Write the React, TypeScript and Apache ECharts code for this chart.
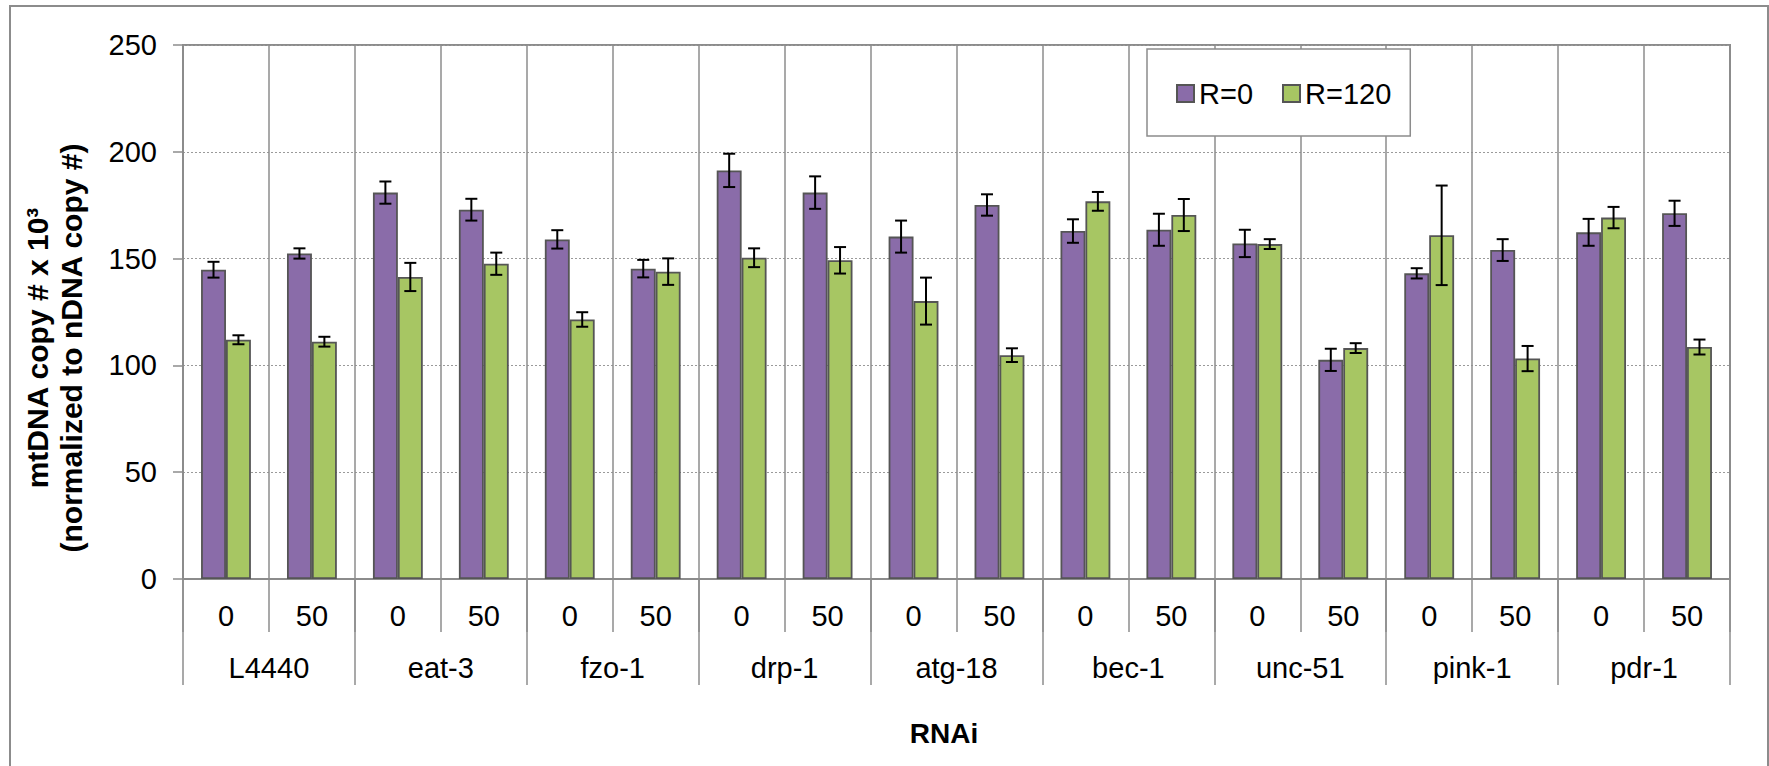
import React, { useEffect, useRef } from "react";
import * as echarts from "echarts";

const groups = ["L4440", "eat-3", "fzo-1", "drp-1", "atg-18", "bec-1", "unc-51", "pink-1", "pdr-1"];
const doses = ["0", "50"];
const subLabels = ["0", "50", "0", "50", "0", "50", "0", "50", "0", "50", "0", "50", "0", "50", "0", "50", "0", "50"];
const seriesNames = ["R=0", "R=120"];

const r0 = [144.8, 152.4, 180.9, 172.9, 159.0, 145.3, 191.3, 180.9, 160.3, 175.1, 162.9, 163.5, 157.1, 102.6, 143.1, 154.0, 162.3, 171.2];
const r0Err = [3.7, 2.4, 5.2, 5.1, 4.3, 4.1, 7.8, 7.6, 7.5, 5.0, 5.5, 7.5, 6.4, 5.2, 2.4, 5.1, 6.3, 5.9];
const r120 = [112.0, 111.1, 141.4, 147.6, 121.5, 143.9, 150.4, 149.2, 130.1, 104.8, 176.8, 170.4, 156.8, 108.1, 160.9, 103.2, 169.2, 108.6];
const r120Err = [2.1, 2.3, 6.6, 5.2, 3.4, 6.2, 4.4, 6.2, 11.0, 3.2, 4.4, 7.5, 2.3, 2.3, 23.3, 5.9, 5.0, 3.5];

const yTicks = { min: 0, max: 250, interval: 50 };

const FONT = "'Liberation Sans', Arial, sans-serif";
const PURPLE = "#8a6ca9";
const GREEN = "#a7c663";
const GRAY = "#8c8c8c";
const BAR_CAT_GAP = 0.42;

function errData(vals: number[], errs: number[]) {
  return vals.map((v, i) => [i, v - errs[i], v + errs[i]]);
}

function makeErrRender(side: number) {
  return (params: any, api: any) => {
    const idx = api.value(0);
    const lo = api.coord([idx, api.value(1)]);
    const hi = api.coord([idx, api.value(2)]);
    const band = api.size([1, 0])[0];
    const bw = (band * (1 - BAR_CAT_GAP)) / 2;
    const x = lo[0] + side * (bw / 2);
    const cap = 6;
    const style = { stroke: "#000", lineWidth: 2 };
    return {
      type: "group",
      children: [
        { type: "line", shape: { x1: x, y1: lo[1], x2: x, y2: hi[1] }, style },
        { type: "line", shape: { x1: x - cap, y1: lo[1], x2: x + cap, y2: lo[1] }, style },
        { type: "line", shape: { x1: x - cap, y1: hi[1], x2: x + cap, y2: hi[1] }, style },
      ],
    };
  };
}

export default function App() {
  const ref = useRef<HTMLDivElement>(null);

  useEffect(() => {
    document.body.style.margin = "0";
    if (!ref.current) return;
    const chart = echarts.init(ref.current, null, { renderer: "svg" });
    const option: any = {
      animation: false,
      backgroundColor: "#fff",
      textStyle: { fontFamily: FONT },
      grid: {
        left: 183,
        top: 45,
        width: 1547,
        height: 534,
        show: true,
        borderColor: GRAY,
        borderWidth: 2,
        backgroundColor: "transparent",
        containLabel: false,
        outerBoundsMode: "none",
      },
      legend: {
        data: seriesNames,
        left: 1147,
        top: 49,
        orient: "horizontal",
        padding: [30, 19, 28, 29],
        itemGap: 29,
        itemWidth: 17,
        itemHeight: 17,
        icon: "rect",
        backgroundColor: "#fff",
        borderColor: GRAY,
        borderWidth: 1.5,
        textStyle: { fontSize: 29, color: "#000", fontFamily: FONT, lineHeight: 29 },
      },
      xAxis: [
        {
          type: "category",
          data: subLabels,
          position: "bottom",
          boundaryGap: true,
          axisLine: { show: true, lineStyle: { color: GRAY, width: 2 } },
          axisTick: { show: true, interval: 0, length: 53, lineStyle: { color: GRAY, width: 1.5 } },
          axisLabel: { interval: 0, fontSize: 29, color: "#000", margin: 22, lineHeight: 29, fontFamily: FONT },
          splitLine: { show: true, interval: 0, lineStyle: { color: GRAY, width: 1.5, type: "solid" } },
        },
        {
          type: "category",
          data: groups,
          position: "bottom",
          offset: 0,
          boundaryGap: true,
          axisLine: { show: false },
          axisTick: { show: true, interval: 0, length: 106, lineStyle: { color: GRAY, width: 1.5 } },
          axisLabel: { interval: 0, fontSize: 29, color: "#000", margin: 74, lineHeight: 29, fontFamily: FONT },
          splitLine: { show: false },
        },
      ],
      yAxis: {
        type: "value",
        min: yTicks.min,
        max: yTicks.max,
        interval: yTicks.interval,
        axisLine: { show: true, lineStyle: { color: GRAY, width: 2 } },
        axisTick: { show: true, length: 10, lineStyle: { color: GRAY, width: 1.5 } },
        axisLabel: { fontSize: 29, color: "#000", margin: 26, fontFamily: FONT },
        splitLine: { show: true, lineStyle: { color: "#9a9a9a", width: 1, type: [2, 2] } },
      },
      series: [
        {
          name: seriesNames[0],
          type: "bar",
          xAxisIndex: 0,
          data: r0,
          barGap: "0%",
          barCategoryGap: "42%",
          itemStyle: { color: PURPLE, borderColor: "#555", borderWidth: 1.8 },
        },
        {
          name: seriesNames[1],
          type: "bar",
          xAxisIndex: 0,
          data: r120,
          barGap: "0%",
          barCategoryGap: "42%",
          itemStyle: { color: GREEN, borderColor: "#555", borderWidth: 1.8 },
        },
        {
          name: "err0",
          type: "custom",
          xAxisIndex: 0,
          z: 5,
          renderItem: makeErrRender(-1),
          encode: { x: 0, y: [1, 2] },
          data: errData(r0, r0Err),
        },
        {
          name: "err120",
          type: "custom",
          xAxisIndex: 0,
          z: 5,
          renderItem: makeErrRender(1),
          encode: { x: 0, y: [1, 2] },
          data: errData(r120, r120Err),
        },
      ],
      graphic: [
        {
          type: "rect",
          shape: { x: 10, y: 6, width: 1758, height: 800 },
          style: { fill: "none", stroke: GRAY, lineWidth: 2 },
          silent: true,
          z: -1,
        },
        {
          type: "text",
          x: 54,
          y: 348,
          rotation: Math.PI / 2,
          style: {
            text: "mtDNA copy # x 10³\n(normalized to nDNA copy #)",
            fontSize: 30,
            fontWeight: "bold",
            fontFamily: FONT,
            lineHeight: 34,
            fill: "#000",
            align: "center",
            verticalAlign: "middle",
          },
        },
        {
          type: "text",
          x: 944,
          y: 733,
          style: {
            text: "RNAi",
            fontSize: 28,
            fontWeight: "bold",
            fontFamily: FONT,
            fill: "#000",
            align: "center",
            verticalAlign: "middle",
          },
        },
      ],
    };
    chart.setOption(option);
    return () => chart.dispose();
  }, []);

  return <div ref={ref} style={{ width: 1769, height: 766 }} />;
}
